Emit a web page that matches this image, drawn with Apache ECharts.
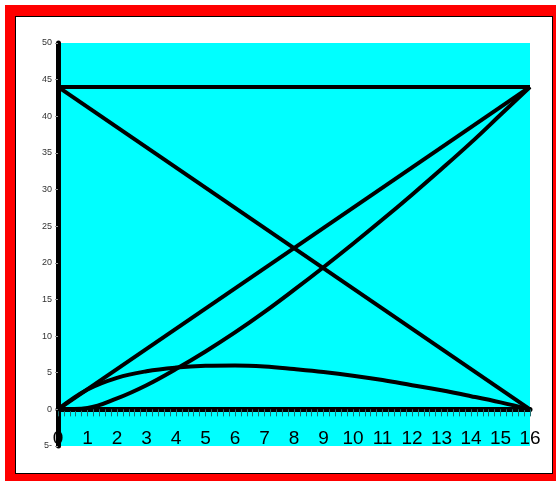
<!DOCTYPE html>
<html>
<head>
<meta charset="utf-8">
<script src="https://cdn.jsdelivr.net/npm/echarts@6/dist/echarts.min.js"></script>
<style>
  html, body { margin: 0; padding: 0; width: 556px; height: 481px; overflow: hidden; background: #fff; }
  #red { position: absolute; left: 5px; top: 5px; width: 560px; height: 490px; background: #ff0000; }
  #paper { position: absolute; left: 15px; top: 16px; width: 538px; height: 458px;
           box-sizing: border-box; border: 1px solid #000; background: #fff; }
  #chart { position: absolute; left: 0; top: 0; width: 556px; height: 481px; }
</style>
</head>
<body>
<div id="red"></div>
<div id="paper"></div>
<div id="chart"></div>
<script>
// x positions 0..16
var xs = [0, 1, 2, 3, 4, 5, 6, 7, 8, 9, 10, 11, 12, 13, 14, 15, 16];
// straight lines (end points)
var flatLine = [[0, 44], [16, 44]];
var fallLine = [[0, 44], [16, 0]];
var riseLine = [[0, 0], [16, 44]];
// curves, one value per x
var riseCurve = [0, 0.2, 1.5, 3.3, 5.5, 7.9, 10.5, 13.3, 16.3, 19.4, 22.6, 25.9, 29.3, 32.8, 36.4, 40.2, 44];
var humpCurve = [0, 2.7, 4.3, 5.2, 5.7, 5.95, 6.0, 5.85, 5.5, 5.1, 4.6, 4.0, 3.3, 2.6, 1.8, 0.95, 0];

function pairs(ys) {
  var out = [];
  for (var i = 0; i < xs.length; i++) {
    out.push([xs[i], ys[i]]);
  }
  return out;
}

var lineStyle = { color: '#000', width: 4 };

function mkLine(data, smooth) {
  return {
    type: 'line',
    data: data,
    symbol: 'none',
    smooth: smooth ? 0.4 : false,
    lineStyle: lineStyle,
    silent: true
  };
}

var myChart = echarts.init(document.getElementById('chart'), null, { renderer: 'canvas' });
var option = {
  backgroundColor: 'transparent',
  animation: false,
  grid: {
    left: 58, right: 26, top: 43, bottom: 35,
    show: true,
    backgroundColor: '#00ffff',
    borderWidth: 0
  },
  xAxis: {
    type: 'value',
    min: 0, max: 16, interval: 1,
    axisLine: { onZero: true, lineStyle: { color: '#000', width: 5 } },
    axisTick: { show: true, length: 7, lineStyle: { color: '#1f6f6f', width: 1 } },
    minorTick: { show: true, splitNumber: 5, length: 7, lineStyle: { color: '#1f6f6f', width: 1 } },
    // labels sit just under the zero line, above the -5 edge
    axisLabel: { color: '#000', fontSize: 19, fontFamily: 'Liberation Sans', margin: -17 },
    splitLine: { show: false }
  },
  yAxis: {
    type: 'value',
    min: -5, max: 50, interval: 5,
    axisLine: { show: true, lineStyle: { color: '#000', width: 5 } },
    axisTick: { show: true, length: 3, lineStyle: { color: '#999', width: 1 } },
    axisLabel: {
      color: '#333', fontSize: 9, fontFamily: 'Liberation Sans', margin: 6,
      formatter: function (v) { return v === -5 ? '5-' : String(v); }
    },
    splitLine: { show: false }
  },
  series: [
    mkLine(flatLine, false),
    mkLine(fallLine, false),
    mkLine(riseLine, false),
    mkLine(pairs(riseCurve), true),
    mkLine(pairs(humpCurve), true)
  ]
};
myChart.setOption(option);
</script>
</body>
</html>
